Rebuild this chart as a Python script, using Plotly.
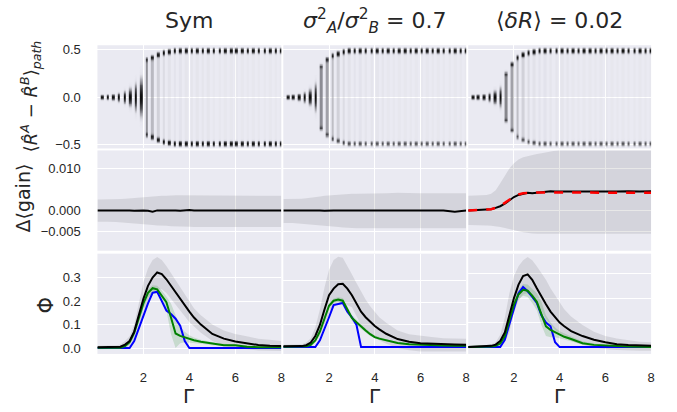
import numpy as np
import plotly.graph_objects as go

# ---------------- data ----------------
col_titles = ["Sym", "<i>σ</i><sup>2</sup><sub><i>A</i></sub>/<i>σ</i><sup>2</sup><sub><i>B</i></sub> = 0.7", "⟨<i>δR</i>⟩ = 0.02"]

# top row: distribution of (R^A - R^B)_path per Gamma
gamma_bar = [0.2, 0.44, 0.69, 0.93, 1.18, 1.42, 1.66, 1.91, 2.15, 2.39, 2.64, 2.88, 3.12, 3.37, 3.61, 3.86, 4.1,
             4.34, 4.59, 4.83, 5.07, 5.32, 5.56, 5.81, 6.05, 6.29, 6.54, 6.78, 7.02, 7.27, 7.51, 7.76, 8.0]
# half extent of each bar
spread_sym = [0.027, 0.03, 0.035, 0.05, 0.07, 0.10, 0.15, 0.21, 0.40, 0.42, 0.45, 0.47, 0.48, 0.49, 0.49, 0.49, 0.49,
              0.49, 0.49, 0.49, 0.49, 0.49, 0.49, 0.49, 0.49, 0.49, 0.49, 0.49, 0.49, 0.49, 0.49, 0.49, 0.49]
top_sym = [0, 0, 0, 0, 0, 0, 0, 0, 0.5, 0.8, 0.9, 1, 1, 1, 1, 1, 1, 1, 1, 1, 1, 1, 1, 1, 1, 1, 1, 1, 1, 1, 1, 1, 1]
bot_sym = [0, 0, 0, 0, 0, 0, 0, 0, 0.5, 0.8, 0.9, 1, 1, 1, 1, 1, 1, 1, 1, 1, 1, 1, 1, 1, 1, 1, 1, 1, 1, 1, 1, 1, 1]
mid_sym = [0, 0, 0, 0, 0, 0, 0, 0, 0.3, 0.17, 0.11, 0.08, 0.06, 0.05, 0.05, 0.04, 0.04, 0.04, 0.04, 0.04, 0.03, 0.03,
           0.03, 0.03, 0.03, 0.03, 0.03, 0.03, 0.03, 0.03, 0.03, 0.03, 0.03]

spread_var = [0.027, 0.03, 0.04, 0.06, 0.09, 0.15, 0.33, 0.40, 0.44, 0.46, 0.48, 0.49, 0.49, 0.49, 0.49, 0.49, 0.49,
              0.49, 0.49, 0.49, 0.49, 0.49, 0.49, 0.49, 0.49, 0.49, 0.49, 0.49, 0.49, 0.49, 0.49, 0.49, 0.49]
top_var = [0, 0, 0, 0, 0, 0, 0.35, 0.6, 0.85, 0.95, 1, 1, 1, 1, 1, 1, 1, 1, 1, 1, 1, 1, 1, 1, 1, 1, 1, 1, 1, 1, 1, 1, 1]
bot_var = [0, 0, 0, 0, 0, 0, 0.3, 0.4, 0.5, 0.55, 0.55, 0.5, 0.5, 0.5, 0.5, 0.5, 0.5, 0.5, 0.5, 0.5, 0.5, 0.5, 0.5,
           0.5, 0.5, 0.5, 0.5, 0.5, 0.5, 0.5, 0.5, 0.5, 0.5]
mid_var = [0, 0, 0, 0, 0, 0, 0.32, 0.24, 0.16, 0.11, 0.08, 0.06, 0.05, 0.05, 0.04, 0.04, 0.04, 0.04, 0.03, 0.03, 0.03,
           0.03, 0.03, 0.03, 0.03, 0.03, 0.03, 0.03, 0.03, 0.03, 0.03, 0.03, 0.03]

spread_dr = [0.027, 0.03, 0.035, 0.05, 0.075, 0.11, 0.25, 0.35, 0.42, 0.45, 0.47, 0.48, 0.49, 0.49, 0.49, 0.49, 0.49,
             0.49, 0.49, 0.49, 0.49, 0.49, 0.49, 0.49, 0.49, 0.49, 0.49, 0.49, 0.49, 0.49, 0.49, 0.49, 0.49]
top_dr = [0, 0, 0, 0, 0, 0, 0.4, 0.65, 0.9, 1, 1, 1, 1, 1, 1, 1, 1, 1, 1, 1, 1, 1, 1, 1, 1, 1, 1, 1, 1, 1, 1, 1, 1]
bot_dr = [0, 0, 0, 0, 0, 0, 0.3, 0.35, 0.4, 0.45, 0.5, 0.5, 0.5, 0.5, 0.5, 0.5, 0.5, 0.5, 0.5, 0.5, 0.5, 0.5, 0.5,
          0.5, 0.5, 0.5, 0.5, 0.5, 0.5, 0.5, 0.5, 0.5, 0.5]
mid_dr = [0, 0, 0, 0, 0, 0, 0.34, 0.24, 0.16, 0.11, 0.08, 0.06, 0.05, 0.05, 0.04, 0.04, 0.04, 0.04, 0.03, 0.03, 0.03,
          0.03, 0.03, 0.03, 0.03, 0.03, 0.03, 0.03, 0.03, 0.03, 0.03, 0.03, 0.03]

# middle and bottom rows
gamma = [0, 0.4, 0.8, 1.0, 1.2, 1.4, 1.6, 1.8, 2.0, 2.2, 2.4, 2.6, 2.8, 3.0, 3.2, 3.4, 3.6, 3.8, 4.0, 4.2, 4.5,
         5.0, 5.5, 6.0, 6.5, 7.0, 7.5, 8.0]

gain_sym = [0.0, 0.0, 0.0, 0.0, 0.0001, 0.0, -0.0001, 0.0, 0.0, -0.0001, -0.0003, 0.0, 0.0, 0.0001, 0.0, 0.0,
            -0.0001, 0.0, 0.0001, 0.0, 0.0, 0.0001, 0.0, 0.0001, 0.0001, 0.0, 0.0001, 0.0]
gain_sym_hi = [0.0026, 0.0026, 0.0027, 0.0027, 0.0028, 0.0029, 0.0030, 0.0031, 0.0032, 0.0033, 0.0034, 0.0035,
               0.0035, 0.0035, 0.0036, 0.0036, 0.0036, 0.0036, 0.0036, 0.0035, 0.0035, 0.0035, 0.0036, 0.0036,
               0.0035, 0.0035, 0.0035, 0.0035]
gain_sym_lo = [-0.0027, -0.0027, -0.0028, -0.0028, -0.0029, -0.0030, -0.0031, -0.0032, -0.0033, -0.0034, -0.0035,
               -0.0036, -0.0037, -0.0037, -0.0038, -0.0038, -0.0039, -0.0039, -0.0039, -0.0040, -0.0040, -0.0040,
               -0.0040, -0.0041, -0.0041, -0.0040, -0.0040, -0.0040]

gain_var = [0.0, 0.0, 0.0, 0.0001, 0.0, 0.0, 0.0, -0.0001, 0.0, 0.0, 0.0, 0.0, 0.0001, 0.0, 0.0, 0.0, 0.0, 0.0001,
            0.0, 0.0, 0.0, 0.0, 0.0001, 0.0, 0.0001, 0.0, -0.0003, 0.0]
gain_var_hi = [0.0027, 0.0027, 0.0028, 0.0029, 0.0030, 0.0031, 0.0033, 0.0035, 0.0036, 0.0037, 0.0038, 0.0039,
               0.0039, 0.0040, 0.0040, 0.0040, 0.0041, 0.0041, 0.0041, 0.0041, 0.0041, 0.0042, 0.0041, 0.0041,
               0.0041, 0.0041, 0.0042, 0.0041]
gain_var_lo = [-0.0030, -0.0030, -0.0031, -0.0032, -0.0033, -0.0034, -0.0036, -0.0037, -0.0038, -0.0039, -0.0040,
               -0.0041, -0.0042, -0.0042, -0.0043, -0.0043, -0.0043, -0.0043, -0.0044, -0.0044, -0.0044, -0.0044,
               -0.0044, -0.0044, -0.0044, -0.0044, -0.0043, -0.0043]

gain_dr = [0.0, 0.0001, 0.0002, 0.0003, 0.0006, 0.0010, 0.0016, 0.0025, 0.0032, 0.0037, 0.0040, 0.0042, 0.0041,
           0.0042, 0.0044, 0.0045, 0.0046, 0.0045, 0.0045, 0.0045, 0.0045, 0.0045, 0.0044, 0.0045, 0.0045, 0.0046,
           0.0045, 0.0046]
gain_dr_fit = [0.0, 0.0001, 0.0002, 0.0003, 0.0006, 0.0011, 0.0018, 0.0026, 0.0033, 0.0038, 0.0041, 0.0042,
               0.0043, 0.0043, 0.0043, 0.0043, 0.0043, 0.0043, 0.0043, 0.0043, 0.0043, 0.0043, 0.0043, 0.0043,
               0.0042, 0.0042, 0.0042, 0.0042]
gain_dr_hi = [0.0035, 0.0036, 0.0037, 0.0040, 0.0048, 0.0065, 0.0082, 0.0100, 0.0113, 0.0122, 0.0127, 0.0130,
              0.0133, 0.0135, 0.0137, 0.0139, 0.0141, 0.0143, 0.0145, 0.0150, 0.0150, 0.0150, 0.0150, 0.0150,
              0.0150, 0.0150, 0.0150, 0.0150]
gain_dr_lo = [-0.0035, -0.0035, -0.0036, -0.0037, -0.0038, -0.0040, -0.0042, -0.0045, -0.0047, -0.0050, -0.0052,
              -0.0054, -0.0055, -0.0056, -0.0057, -0.0057, -0.0057, -0.0057, -0.0057, -0.0057, -0.0057, -0.0057,
              -0.0056, -0.0056, -0.0056, -0.0056, -0.0056, -0.0056]

phi_black_sym = [0.003, 0.003, 0.004, 0.006, 0.015, 0.03, 0.07, 0.14, 0.21, 0.265, 0.30, 0.322, 0.315, 0.293, 0.265,
                 0.238, 0.21, 0.18, 0.155, 0.13, 0.10, 0.06, 0.04, 0.028, 0.019, 0.013, 0.01, 0.009]
phi_black_sym_hi = [0.01, 0.01, 0.012, 0.015, 0.03, 0.05, 0.10, 0.19, 0.28, 0.34, 0.375, 0.388, 0.375, 0.35, 0.32,
                    0.29, 0.26, 0.23, 0.20, 0.17, 0.14, 0.10, 0.075, 0.06, 0.05, 0.04, 0.035, 0.03]
phi_black_sym_lo = [-0.005, -0.005, -0.004, -0.003, 0.0, 0.01, 0.04, 0.09, 0.14, 0.19, 0.225, 0.25, 0.25, 0.235,
                    0.21, 0.185, 0.16, 0.135, 0.11, 0.09, 0.065, 0.03, 0.01, 0.0, -0.005, -0.01, -0.012, -0.012]
phi_green_sym = [0.001, 0.001, 0.001, 0.001, 0.008, 0.025, 0.065, 0.13, 0.19, 0.235, 0.255, 0.25, 0.225, 0.195,
                 0.13, 0.062, 0.052, 0.045, 0.039, 0.033, 0.027, 0.018, 0.012, 0.012, 0.006, 0.004, 0.003, 0.003]
phi_green_sym_hi = [0.003, 0.003, 0.003, 0.003, 0.012, 0.035, 0.08, 0.145, 0.205, 0.25, 0.268, 0.265, 0.245, 0.22,
                    0.19, 0.14, 0.09, 0.07, 0.055, 0.045, 0.035, 0.025, 0.018, 0.015, 0.01, 0.008, 0.006, 0.005]
phi_green_sym_lo = [0.0, 0.0, 0.0, 0.0, 0.004, 0.015, 0.05, 0.11, 0.17, 0.215, 0.235, 0.23, 0.2, 0.16, 0.06, 0.0,
                    0.02, 0.025, 0.025, 0.022, 0.018, 0.012, 0.008, 0.006, 0.003, 0.002, 0.001, 0.001]
phi_blue_sym = [0, 0, 0, 0, 0, 0, 0.03, 0.085, 0.14, 0.19, 0.235, 0.24, 0.20, 0.16, 0.145, 0.125, 0.095, 0.03, 0,
                0, 0, 0, 0, 0, 0, 0, 0, 0]

phi_black_var = [0.003, 0.003, 0.004, 0.008, 0.02, 0.05, 0.10, 0.17, 0.235, 0.265, 0.285, 0.287, 0.265, 0.235,
                 0.2, 0.16, 0.135, 0.115, 0.095, 0.08, 0.06, 0.036, 0.024, 0.017, 0.014, 0.012, 0.011, 0.01]
phi_black_var_hi = [0.01, 0.01, 0.012, 0.02, 0.04, 0.09, 0.17, 0.27, 0.35, 0.395, 0.41, 0.405, 0.37, 0.33, 0.29,
                    0.25, 0.215, 0.185, 0.16, 0.135, 0.11, 0.075, 0.058, 0.05, 0.045, 0.04, 0.038, 0.037]
phi_black_var_lo = [-0.005, -0.005, -0.004, -0.003, 0.0, 0.02, 0.05, 0.10, 0.15, 0.18, 0.2, 0.2, 0.19, 0.18, 0.14,
                    0.10, 0.075, 0.055, 0.04, 0.028, 0.015, -0.005, -0.015, -0.02, -0.02, -0.02, -0.02, -0.02]
phi_green_var = [0.001, 0.001, 0.001, 0.003, 0.01, 0.03, 0.07, 0.13, 0.187, 0.21, 0.215, 0.21, 0.17, 0.132, 0.112,
                 0.092, 0.075, 0.058, 0.045, 0.038, 0.03, 0.018, 0.013, 0.01, 0.008, 0.007, 0.006, 0.006]
phi_green_var_hi = [0.003, 0.003, 0.003, 0.005, 0.014, 0.036, 0.078, 0.14, 0.197, 0.22, 0.226, 0.222, 0.185,
                    0.145, 0.124, 0.102, 0.085, 0.066, 0.052, 0.044, 0.035, 0.022, 0.016, 0.013, 0.01, 0.009, 0.008,
                    0.008]
phi_green_var_lo = [0.0, 0.0, 0.0, 0.001, 0.006, 0.024, 0.062, 0.12, 0.177, 0.2, 0.204, 0.198, 0.155, 0.119, 0.1,
                    0.082, 0.065, 0.05, 0.038, 0.032, 0.025, 0.014, 0.01, 0.007, 0.006, 0.005, 0.004, 0.004]
phi_blue_var = [0, 0, 0, 0, 0, 0, 0.03, 0.08, 0.135, 0.19, 0.195, 0.20, 0.16, 0.135, 0.10, 0, 0, 0, 0, 0, 0, 0, 0,
                0, 0, 0, 0, 0]

phi_black_dr = [0.0, 0.001, 0.003, 0.005, 0.01, 0.025, 0.06, 0.13, 0.2, 0.255, 0.29, 0.297, 0.275, 0.24, 0.205,
                0.175, 0.145, 0.12, 0.1, 0.085, 0.065, 0.045, 0.03, 0.02, 0.012, 0.008, 0.006, 0.005]
phi_black_dr_hi = [0.005, 0.006, 0.008, 0.012, 0.02, 0.05, 0.12, 0.22, 0.29, 0.33, 0.355, 0.368, 0.355, 0.33,
                   0.305, 0.275, 0.24, 0.21, 0.18, 0.155, 0.125, 0.09, 0.063, 0.045, 0.035, 0.027, 0.022, 0.02]
phi_black_dr_lo = [-0.005, -0.004, -0.003, -0.002, 0.0, 0.005, 0.02, 0.06, 0.14, 0.19, 0.215, 0.22, 0.21, 0.18,
                   0.15, 0.115, 0.09, 0.07, 0.055, 0.04, 0.025, 0.01, -0.002, -0.008, -0.012, -0.014, -0.015, -0.015]
phi_green_dr = [0.0, 0.0, 0.001, 0.002, 0.005, 0.015, 0.045, 0.11, 0.174, 0.215, 0.234, 0.23, 0.21, 0.185, 0.135,
                0.085, 0.07, 0.06, 0.05, 0.042, 0.033, 0.016, 0.009, 0.006, 0.004, 0.002, 0.001, 0.0]
phi_green_dr_hi = [0.002, 0.002, 0.003, 0.004, 0.009, 0.022, 0.055, 0.125, 0.19, 0.235, 0.258, 0.256, 0.24, 0.22,
                   0.185, 0.13, 0.1, 0.08, 0.065, 0.055, 0.043, 0.024, 0.015, 0.01, 0.007, 0.005, 0.004, 0.003]
phi_green_dr_lo = [0.0, 0.0, 0.0, 0.0, 0.002, 0.009, 0.035, 0.095, 0.158, 0.195, 0.21, 0.205, 0.18, 0.15, 0.09,
                   0.045, 0.04, 0.04, 0.035, 0.03, 0.024, 0.01, 0.004, 0.002, 0.001, 0.0, 0.0, 0.0]
phi_blue_dr = [0, 0, 0, 0, 0, 0, 0.03, 0.09, 0.16, 0.22, 0.245, 0.228, 0.205, 0.18, 0.13, 0.1, 0.085, 0.02, 0, 0, 0,
               0, 0, 0, 0, 0, 0, 0]

# ---------------- figure ----------------
W, H = 677, 412
BG = "#EAEAF2"
TXT = "#262626"
col_px = [(98, 283), (285, 469), (471, 655)]
row_px = [(43, 148), (150, 252), (255, 357)]
yranges = [
    [[-0.538, 0.549]] * 3,
    [[-0.00965, 0.01435]] * 3,
    [[-0.025, 0.402], [-0.0315, 0.4235], [-0.028, 0.3815]],
]
ytick = [
    ([-0.5, 0, 0.5], ["−0.5", "0.0", "0.5"]),
    ([-0.005, 0, 0.01], ["−0.005", "0.000", "0.010"]),
    ([0, 0.1, 0.2, 0.3], ["0.0", "0.1", "0.2", "0.3"]),
]

fig = go.Figure()
layout = dict(width=W, height=H, margin=dict(l=0, r=0, t=0, b=0), paper_bgcolor="white",
              plot_bgcolor=BG, showlegend=False, font=dict(family="Arial, Liberation Sans", color=TXT))

tickfont = dict(family="Arial, Liberation Sans", size=13, color=TXT)


def ax(r, c):
    return r * 3 + c + 1


for r in range(3):
    for c in range(3):
        k = ax(r, c)
        xs = "" if k == 1 else str(k)
        x0, x1 = col_px[c]
        y0, y1 = row_px[r]
        layout["xaxis" + xs] = dict(domain=[x0 / W, x1 / W], anchor="y" + xs, range=[0, 8],
                                    tickvals=[2, 4, 6, 8], showticklabels=(r == 2), ticks="outside",
                                    ticklen=11, tickcolor="rgba(0,0,0,0)", tickfont=tickfont,
                                    gridcolor="white", gridwidth=1.3, zeroline=False, showline=False)
        tv, tt = ytick[r]
        layout["yaxis" + xs] = dict(domain=[1 - y1 / H, 1 - y0 / H], anchor="x" + xs, range=yranges[r][c],
                                    tickvals=tv, ticktext=tt, showticklabels=(c == 0), ticks="outside",
                                    ticklen=13, tickcolor="rgba(0,0,0,0)", tickfont=tickfont,
                                    gridcolor="white", gridwidth=1.3, zeroline=False, showline=False)

# top row heatmaps
yb = np.arange(-0.53, 0.5301, 0.005)
yc = (yb[:-1] + yb[1:]) / 2
hw = 0.055
xedges = []
for g in gamma_bar:
    xedges += [g - hw, g + hw]


def profile(s, t, b, m):
    if t == 0 and b == 0:
        sd = s / 2.0
        return np.exp(-0.5 * (yc / sd) ** 2)
    p = t * np.exp(-0.5 * ((yc - s) / 0.016) ** 2) + b * np.exp(-0.5 * ((yc + s) / 0.016) ** 2)
    p = p + m * (np.abs(yc) < s)
    return np.clip(p, 0, 1)


hist_sets = [(spread_sym, top_sym, bot_sym, mid_sym), (spread_var, top_var, bot_var, mid_var),
             (spread_dr, top_dr, bot_dr, mid_dr)]
cscale = [[0, "rgba(235,235,241,0)"], [0.01, "rgba(170,170,178,0.02)"], [0.06, "rgba(150,150,158,0.09)"],
          [0.2, "rgba(120,120,126,0.55)"], [0.5, "rgb(85,85,90)"], [1, "rgb(15,15,15)"]]
for c, (sp, tp, bt, md) in enumerate(hist_sets):
    cols = []
    for i in range(len(gamma_bar)):
        cols.append(profile(sp[i], tp[i], bt[i], md[i]))
        if i < len(gamma_bar) - 1:
            cols.append(np.full(len(yc), np.nan))
    z = np.array(cols).T
    z = np.where(np.isnan(z), None, z).tolist()
    k = ax(0, c)
    xs = "" if k == 1 else str(k)
    fig.add_trace(go.Heatmap(x=xedges, y=yb.tolist(), z=z, colorscale=cscale, zmin=0, zmax=1,
                             showscale=False, hoverinfo="skip", xaxis="x" + xs, yaxis="y" + xs))


def band(xv, lo, hi, color, k):
    xs = "" if k == 1 else str(k)
    fig.add_trace(go.Scatter(x=list(xv) + list(xv)[::-1], y=list(hi) + list(lo)[::-1], fill="toself",
                             fillcolor=color, line=dict(width=0), mode="lines", hoverinfo="skip",
                             xaxis="x" + xs, yaxis="y" + xs))


def line(xv, yv, color, k, dash="solid", width=2):
    xs = "" if k == 1 else str(k)
    fig.add_trace(go.Scatter(x=xv, y=yv, mode="lines", line=dict(color=color, width=width, dash=dash),
                             hoverinfo="skip", xaxis="x" + xs, yaxis="y" + xs))


GRAYBAND = "rgba(0,0,0,0.09)"
GREENBAND = "rgba(0,128,0,0.15)"

# middle row
gain_sets = [(gain_sym, gain_sym_lo, gain_sym_hi), (gain_var, gain_var_lo, gain_var_hi),
             (gain_dr, gain_dr_lo, gain_dr_hi)]
for c, (m, lo, hi) in enumerate(gain_sets):
    k = ax(1, c)
    band(gamma, lo, hi, GRAYBAND, k)
    line(gamma, m, "black", k)
line(gamma, gain_dr_fit, "red", ax(1, 2), dash="dash", width=2.5)

# bottom row
phi_sets = [
    (phi_black_sym, phi_black_sym_lo, phi_black_sym_hi, phi_green_sym, phi_green_sym_lo, phi_green_sym_hi,
     phi_blue_sym),
    (phi_black_var, phi_black_var_lo, phi_black_var_hi, phi_green_var, phi_green_var_lo, phi_green_var_hi,
     phi_blue_var),
    (phi_black_dr, phi_black_dr_lo, phi_black_dr_hi, phi_green_dr, phi_green_dr_lo, phi_green_dr_hi,
     phi_blue_dr),
]
for c, (bk, bklo, bkhi, gr, grlo, grhi, bl) in enumerate(phi_sets):
    k = ax(2, c)
    band(gamma, bklo, bkhi, GRAYBAND, k)
    band(gamma, grlo, grhi, GREENBAND, k)
    line(gamma, bl, "blue", k)
    line(gamma, gr, "green", k)
    line(gamma, bk, "black", k)

# annotations
ann = []


def mf(size):
    return dict(family="DejaVu Sans", size=size, color=TXT)


for c, t in enumerate(col_titles):
    x0, x1 = col_px[c]
    ann.append(dict(text=t, x=(x0 + x1) / 2 / W, y=1 - 18 / H, xref="paper", yref="paper",
                    showarrow=False, font=mf(22), xanchor="center", yanchor="middle"))
    ann.append(dict(text="Γ", x=(x0 + x1) / 2 / W, y=0, xref="paper", yref="paper", height=20,
                    valign="middle", showarrow=False, font=mf(20), xanchor="center", yanchor="bottom"))
ann.append(dict(text="⟨<i>R\u0302</i><sup><i>A</i></sup> − <i>R\u0302</i><sup><i>B</i></sup>⟩<sub><i>path</i></sub>",
                x=31 / W, y=1 - 95 / H, xref="paper", yref="paper", showarrow=False, textangle=-90,
                font=mf(18), xanchor="center", yanchor="middle"))
ann.append(dict(text="Δ⟨gain⟩", x=23 / W, y=1 - 198 / H, xref="paper", yref="paper", showarrow=False,
                textangle=-90, font=mf(19), xanchor="center", yanchor="middle"))
ann.append(dict(text="Φ", x=46 / W, y=1 - 307 / H, xref="paper", yref="paper", showarrow=False,
                textangle=-90, font=mf(21), xanchor="center", yanchor="middle"))
layout["annotations"] = ann

fig.update_layout(**layout)
fig.write_html("out.html", config={"displayModeBar": False},
               post_script="document.body.style.margin='0px';document.body.style.overflow='hidden';")
